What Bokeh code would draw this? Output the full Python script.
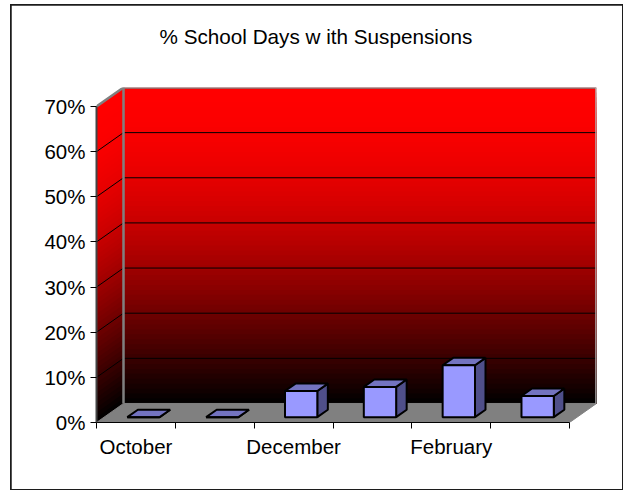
import numpy as np
from bokeh.plotting import figure
from bokeh.models import FixedTicker, NumeralTickFormatter, Range1d, Title
from bokeh.embed import file_html
from bokeh.resources import INLINE

months = ["October", "November", "December", "January", "February", "March"]
values = [0.0, 0.0, 0.058, 0.067, 0.115, 0.047]
y_ticks = [0.0, 0.1, 0.2, 0.3, 0.4, 0.5, 0.6, 0.7]
title_text = "% School Days w ith Suspensions"
font = "Liberation Sans"

n = len(months)
top = 0.7
px_x = 473 / n               # pixels per category
px_y = 315.5 / top           # pixels per unit of value
dx = 27 / px_x               # full depth of the 3D box, in data units
dy = 19 / px_y
x_end = n + dx
y_end = top + dy

p = figure(width=611, height=484, output_backend="svg", toolbar_location=None,
           x_range=Range1d(0, x_end), y_range=Range1d(0, y_end),
           min_border_left=85, min_border_right=26,
           min_border_top=82, min_border_bottom=67,
           background_fill_color="white", border_fill_color="white",
           outline_line_color=None)
# the chart frame sits 5px from the top of the window, above the page margin
p.styles = {"position": "absolute", "left": "11px", "top": "5px",
            "outline": "2px solid #1c1c1c", "outline-offset": "-1px"}
p.grid.visible = False

# walls: red fading to black; each band runs down to the wall's foot so no seams show
bands = 64
edges = np.linspace(top, 0, bands + 1)
mid = (edges[:-1] + edges[1:]) / 2 / top
colors = ["#%02x0000" % int(round(255 * np.sin(m * np.pi / 2))) for m in mid]
for a, c in zip(edges[:-1], colors):
    p.quad(left=dx, right=x_end, bottom=dy, top=a + dy, fill_color=c, line_color=None)
    p.patch([0, dx, dx, 0], [0, dy, a + dy, a], fill_color=c, line_color=None)

# floor
p.patch([0, n, x_end, dx], [0, 0, dy, dy], fill_color="#808080", line_color="#808080")

# gridlines on both walls
grid = y_ticks[1:-1]
p.multi_line(xs=[[0, dx, x_end] for _ in grid],
             ys=[[g, g + dy, g + dy] for g in grid],
             line_color="#000000", line_width=1)

# wall edges
p.line([0, dx, x_end], [top, top + dy, top + dy], line_color="#808080", line_width=2.5)
p.line([dx, dx], [dy, top + dy], line_color="#808080", line_width=2.5)
p.line([x_end, x_end], [dy, top + dy], line_color="#b0b0b0", line_width=2.5)

# 3D columns
z0, z1 = 0.28, 0.67
half = 0.205
for i, v in enumerate(values):
    xl = i + 0.5 - half + z0 * dx
    xr = i + 0.5 + half + z0 * dx
    yb = z0 * dy
    yt = yb + v
    ox = (z1 - z0) * dx
    oy = (z1 - z0) * dy
    p.patch([xr, xr + ox, xr + ox, xr], [yb, yb + oy, yt + oy, yt],
            fill_color="#4f4f8a", line_color="#000000", line_width=2)
    p.patch([xl, xr, xr + ox, xl + ox], [yt, yt, yt + oy, yt + oy],
            fill_color="#7373c0", line_color="#000000", line_width=2)
    p.quad(left=xl, right=xr, bottom=yb, top=yt,
           fill_color="#9999ff", line_color="#000000", line_width=2)

# axes
xa = p.xaxis[0]
xa.bounds = (0, n)
xa.ticker = FixedTicker(ticks=[i + 0.5 for i in range(0, n, 2)],
                        minor_ticks=list(range(n + 1)))
xa.major_label_overrides = {i + 0.5: months[i] for i in range(0, n, 2)}
xa.major_tick_line_color = None
xa.minor_tick_in = 0
xa.minor_tick_out = 6
xa.minor_tick_line_color = "#000000"
xa.axis_line_color = "#000000"
xa.major_label_text_font = font
xa.major_label_text_font_size = "20.5px"
xa.major_label_text_color = "#000000"
xa.major_label_standoff = 6

ya = p.yaxis[0]
ya.bounds = (0, top)
ya.ticker = FixedTicker(ticks=y_ticks)
ya.formatter = NumeralTickFormatter(format="0%")
ya.major_tick_in = 0
ya.major_tick_out = 6
ya.major_tick_line_color = "#000000"
ya.minor_tick_line_color = None
ya.axis_line_color = "#444444"
ya.axis_line_width = 2
ya.major_label_text_font = font
ya.major_label_text_font_size = "20.5px"
ya.major_label_text_color = "#000000"
ya.major_label_standoff = 5

# an empty spacer title between the plot and the real title
p.add_layout(Title(text=" ", standoff=15, text_font_size="20.7px"), "above")
p.add_layout(Title(text=title_text, align="left", offset=63, standoff=0,
                   text_font=font, text_font_size="20.7px", text_font_style="normal",
                   text_color="#000000"), "above")

open("out.html", "w").write(file_html(p, INLINE))
